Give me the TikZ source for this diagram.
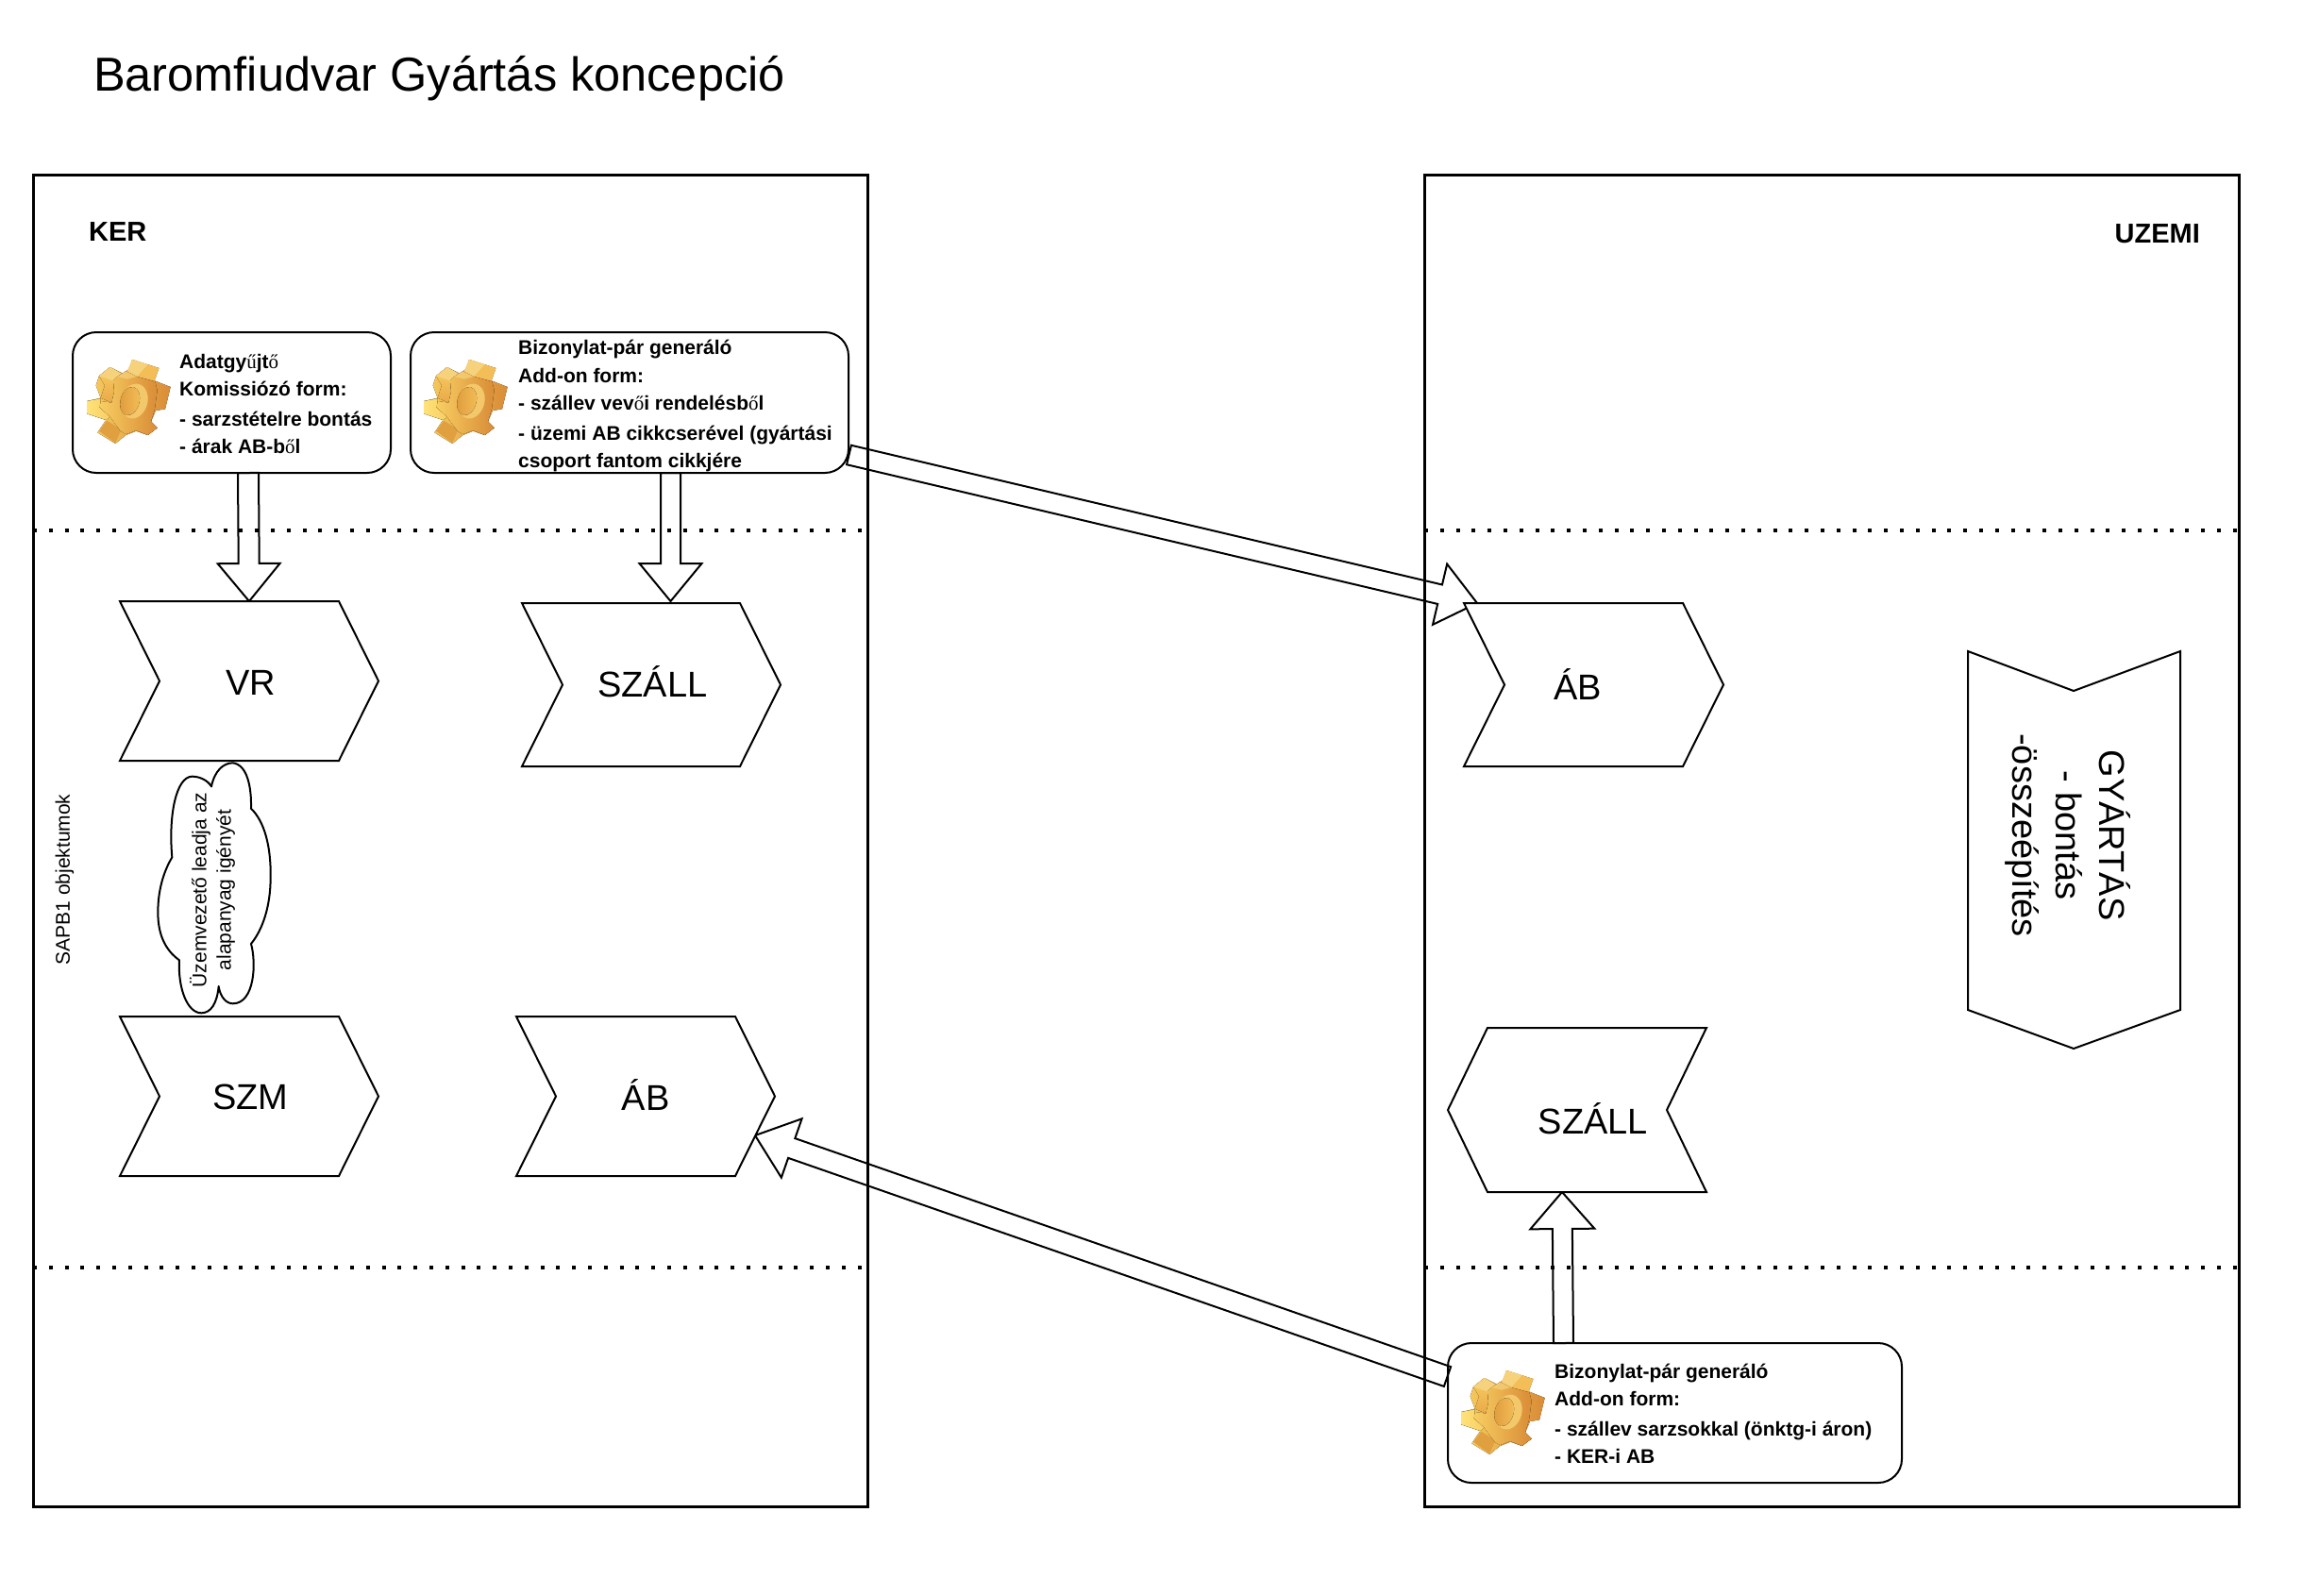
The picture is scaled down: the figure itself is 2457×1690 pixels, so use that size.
\documentclass[tikz,border=0pt]{standalone}
\usepackage{fontspec}
\usetikzlibrary{calc}
\setmainfont{Liberation Sans}
\newfontfamily\fb{Liberation Serif}
\newcommand{\fbk}[1]{{\fb\mdseries #1}}
\definecolor{gA}{HTML}{FFE27A}
\definecolor{gB}{HTML}{F8CE62}
\definecolor{gC}{HTML}{F3BE57}
\definecolor{gD}{HTML}{D98C37}
\definecolor{gE}{HTML}{E9A948}
\definecolor{gF}{HTML}{F6D27C}
\definecolor{gG}{HTML}{E0A040}
\definecolor{gH}{HTML}{DF9C3E}
\definecolor{gI}{HTML}{F2C86A}
\tikzset{
  frame/.style={draw=black,line width=3pt,minimum width=#1,inner sep=0pt,outer sep=0pt},
  dots/.style={line width=4pt,dash pattern=on 4pt off 12.8pt},
  shapeline/.style={draw=black,line width=2pt,line join=miter,fill=white},
  blockline/.style={draw=black,line width=2pt,line join=miter,fill=white},
  boxtext/.style={font=\fontsize{21}{29}\selectfont\bfseries,align=left,anchor=west,inner sep=0pt},
  biglabel/.style={font=\fontsize{38}{46}\selectfont,inner sep=0pt,outer sep=0pt},
  headtext/.style={font=\fontsize{29}{34}\selectfont\bfseries,inner sep=0pt},
  gearpic/.pic={
    \begin{scope}[scale=0.3333,line join=round]
      \fill[left color=gB,right color=gD]
        (165,18)--(250,45)--(236,85)--(287,105)--(270,175)--(240,180)--(225,215)--(245,235)--(215,258)--(178,245)--(145,258)--(112,285)--(55,250)--(82,210)--(22,190)--(22,150)--(65,140)--(50,100)--(60,70)--(95,42)--(135,62)--(160,45)--cycle;
      % upper-left tooth
      \fill[top color=gB,bottom color=gE] (60,70)--(95,42)--(130,62)--(105,85)--(108,120)--(100,155)--(65,140)--(78,100)--cycle;
      \fill[gF] (60,70)--(95,42)--(130,62)--(105,85)--cycle;
      % top tooth
      \fill[gC] (165,18)--(250,45)--(236,85)--(180,72)--(150,55)--cycle;
      \fill[gF] (165,18)--(215,33)--(180,72)--(150,55)--cycle;
      % left lower tooth
      \fill[left color=gA,right color=gB] (22,150)--(65,142)--(62,170)--(95,200)--(82,210)--(22,190)--cycle;
      % bottom tooth
      \fill[gG] (60,245)--(85,212)--(130,240)--(112,283)--cycle;
      % front face
      \fill[left color=gB,right color=gD]
        (118,72)--(145,55)--(180,72)--(238,88)--(245,115)--(237,175)--(225,215)--(245,235)--(215,258)--(178,243)--(145,255)--(128,245)--(95,200)--(62,170)--(65,150)--(100,155)--(108,120)--(105,85)--cycle;
      \fill[gF,opacity=.7] (118,72)--(145,55)--(180,72)--(150,80)--cycle;
      % hole
      \fill[gI,rotate around={-15:(172,150)}] (172,150) ellipse [x radius=42,y radius=56];
      \fill[left color=gH,right color=gC,rotate around={-15:(158,150)}] (158,150) ellipse [x radius=30,y radius=46];
    \end{scope}
  }
}
% name, x1, x2, y1, y2, depth, label, label shift x, label shift y (picture px, down positive)
\newcommand{\chevR}[9]{%
  \draw[shapeline] (#2,#4) -- ({#3-#6},#4) -- (#3,{(#4+#5)/2}) -- ({#3-#6},#5) -- (#2,#5) -- ({#2+#6},{(#4+#5)/2}) -- cycle;
  \node[biglabel,minimum width={#3-#2},minimum height={#5-#4}] (#1) at ({(#2+#3)/2+#8},{(#4+#5)/2+#9}) {#7};
}
\newcommand{\chevL}[9]{%
  \draw[shapeline] ({#2+#6},#4) -- (#3,#4) -- ({#3-#6},{(#4+#5)/2}) -- (#3,#5) -- ({#2+#6},#5) -- (#2,{(#4+#5)/2}) -- cycle;
  \node[biglabel,minimum width={#3-#2},minimum height={#5-#4}] (#1) at ({(#2+#3)/2+#8},{(#4+#5)/2+#9}) {#7};
}
% start, tip, half shaft, half head, head length
\newcommand{\blockarrow}[5]{%
  \coordinate (neck) at ($(#2)!#5pt!(#1)$);
  \draw[blockline] ($(#1)!#3pt!90:(#2)$) -- ($(neck)!#3pt!90:(#2)$) -- ($(neck)!#4pt!90:(#2)$) -- (#2) -- ($(neck)!#4pt!-90:(#2)$) -- ($(neck)!#3pt!-90:(#2)$) -- ($(#1)!#3pt!-90:(#2)$) -- cycle;
}
\begin{document}
\begin{tikzpicture}[x=1pt,y=-1pt]
\useasboundingbox (0,0) rectangle (2457,1690);
\fill[white] (0,0) rectangle (2457,1690);

\node[font=\fontsize{50.5}{60}\selectfont,anchor=west,inner sep=0pt] (title) at (99,83) {Baromfiudvar Gyártás koncepció};

% anchors only, for the connectors
\node[inner sep=0pt,outer sep=0pt,minimum width=337pt,minimum height=149pt] (adat) at (245.5,426.5) {};
\node[inner sep=0pt,outer sep=0pt,minimum width=464pt,minimum height=149pt] (gen) at (667,426.5) {};
\node[inner sep=0pt,outer sep=0pt,minimum width=481pt,minimum height=148pt] (genb) at (1774.5,1497) {};
\coordinate (vrtop) at (264,637);
\coordinate (szalltop) at (710.5,637);
\coordinate (abrtip) at (1565,639);
\coordinate (abltip) at (800,1203);
\coordinate (szbot) at (1655,1263);

\coordinate (a1) at ($(adat.south)+(17.5,0)$);
\coordinate (a2) at ($(gen.south)+(43.5,0)$);
\coordinate (a3) at ($(gen.east)+(0.5,55.5)$);
\coordinate (a4) at ($(genb.west)+(-0.5,-38.5)$);
\coordinate (a5) at ($(genb.north)+(-118,0)$);

\blockarrow{a1}{vrtop}{11}{33}{40}
\blockarrow{a2}{szalltop}{10.5}{33}{40}
\blockarrow{a3}{abrtip}{10.5}{33}{40.5}
\blockarrow{a4}{abltip}{11}{33}{41}
\blockarrow{a5}{szbot}{10.5}{34}{39}

% chevrons
\chevR{vr}{127}{401}{637}{806}{42}{VR}{1.5}{1.5}
\chevR{szall}{553}{827}{639}{812}{43}{SZÁLL}{1.5}{-3}
\chevR{szm}{127}{401}{1077}{1246}{42}{SZM}{1.5}{1}
\chevR{abl}{547}{821}{1077}{1246}{42}{ÁB}{0}{-1.5}
\chevR{abr}{1551}{1826}{639}{812}{43}{ÁB}{-17}{0}
\chevL{szr}{1534}{1808}{1089}{1263}{42}{SZÁLL}{17}{9}

\draw[shapeline] (2085,690) -- (2197,732) -- (2310,690) -- (2310,1070) -- (2197,1111) -- (2085,1070) -- cycle;
\node[biglabel,rotate=-90,align=center] (gyartas) at (2191,885) {GYÁRTÁS\\- bontás\\-összeépítés};

% rounded boxes
\draw[black,line width=2pt,rounded corners=25pt] (adat.south west) rectangle (adat.north east);
\draw[black,line width=2pt,rounded corners=25pt] (gen.south west) rectangle (gen.north east);
\draw[black,line width=2pt,rounded corners=25pt] (genb.south west) rectangle (genb.north east);

\pic at ($(adat.north west)+(8,23)$) {gearpic};
\pic at ($(gen.north west)+(7,23)$) {gearpic};
\pic at ($(genb.north west)+(7,23)$) {gearpic};

\node[boxtext] (adattext) at (190,428) {Adatgy\fbk{ű}jt\fbk{ő}\\Komissiózó form:\\[3pt]- sarzstételre bontás\\- árak AB-b\fbk{ő}l};
\node[boxtext] (gentext) at (549,430) {Bizonylat-pár generáló\\[1pt]Add-on form:\\- szállev vev\fbk{ő}i rendelésb\fbk{ő}l\\[3pt]- üzemi AB cikkcserével (gyártási\\csoport fantom cikkjére};
\node[boxtext] (genbtext) at (1647,1498) {Bizonylat-pár generáló\\Add-on form:\\[3pt]- szállev sarzsokkal (önktg-i áron)\\- KER-i AB};

% cloud
\begin{scope}[shift={(140,780)},scale=0.3333]
\draw[shapeline,line join=round]
  (252,160) .. controls (262,110) and (290,85) .. (320,85)
  .. controls (365,90) and (380,160) .. (378,230)
  .. controls (420,270) and (442,350) .. (440,450)
  .. controls (440,540) and (415,615) .. (378,660)
  .. controls (395,720) and (390,850) .. (320,850)
  .. controls (300,850) and (280,830) .. (275,795)
  .. controls (270,850) and (250,880) .. (220,880)
  .. controls (175,880) and (145,800) .. (150,712)
  .. controls (105,680) and (82,630) .. (82,560)
  .. controls (82,490) and (100,430) .. (127,385)
  .. controls (115,250) and (140,130) .. (190,128)
  .. controls (215,128) and (240,140) .. (252,160) -- cycle;
\end{scope}
\node[font=\fontsize{21}{26}\selectfont,rotate=90,align=center,inner sep=0pt] (cloudtext) at (225,943) {Üzemvezető leadja az\\alapanyag igényét};

% frames and separators
\node[frame=884pt,minimum height=1411pt] (ker) at (477,890.5) {};
\node[frame=863pt,minimum height=1411pt] (uzemi) at (1940.5,890.5) {};
\draw[dots] ($(ker.north west)+(0,377)$) -- ($(ker.north east)+(0,377)$);
\draw[dots] ($(ker.north west)+(0,1158)$) -- ($(ker.north east)+(0,1158)$);
\draw[dots] ($(uzemi.north west)+(0,377)$) -- ($(uzemi.north east)+(0,377)$);
\draw[dots] ($(uzemi.north west)+(0,1158)$) -- ($(uzemi.north east)+(0,1158)$);

\node[headtext,anchor=west] (kerlabel) at (94,245.5) {KER};
\node[headtext,anchor=east] (uzemilabel) at (2331,247.5) {UZEMI};
\node[font=\fontsize{21}{26}\selectfont,rotate=90,inner sep=0pt] (sapb) at (68.5,932) {SAPB1 objektumok};
\end{tikzpicture}
\end{document}
